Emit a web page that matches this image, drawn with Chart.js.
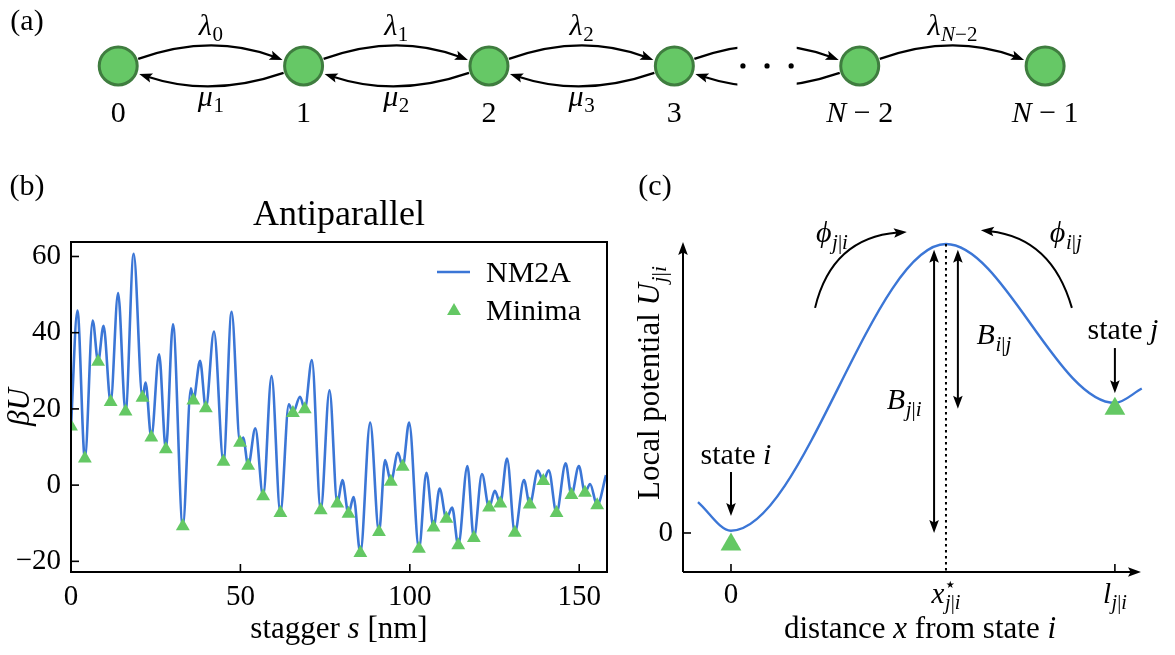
<!DOCTYPE html>
<html><head><meta charset="utf-8">
<script src="https://cdn.jsdelivr.net/npm/chart.js@4.4.1/dist/chart.umd.min.js"></script>
<style>
html,body{margin:0;padding:0;background:#ffffff;}
#fig{position:relative;width:1175px;height:655px;overflow:hidden;background:#fff;}
#fig canvas{position:absolute;}
</style></head>
<body><div id="fig">
<canvas id="chartA" width="1175" height="140" style="left:0;top:0;width:1175px;height:140px"></canvas>
<canvas id="chartB" width="630" height="515" style="left:0;top:140px;width:630px;height:515px"></canvas>
<canvas id="chartC" width="555" height="515" style="left:620px;top:140px;width:555px;height:515px"></canvas>
</div>
<script>
// ---------------- data ----------------
// (a) birth–death chain
const chainStates = [0, 1, 2, 3, 4, 5];
const chainStateLabels = ['$0', '$1', '$2', '$3', '$N − 2', '$N − 1'];
const forwardRates = [[0, 1, '$λ_{0}'], [1, 2, '$λ_{1}'], [2, 3, '$λ_{2}'], [4, 5, '$λ_{N−2}']];
const backwardRates = [[1, 0, '$μ_{1}'], [2, 1, '$μ_{2}'], [3, 2, '$μ_{3}']];
const ellipsisLink = [3, 4];

// (b) Antiparallel NM2A potential
const xTicksB = [0, 50, 100, 150];
const yTicksB = [-20, 0, 20, 40, 60];
const peakS = [1.9, 6.4, 9.6, 13.9, 18.5, 22.0, 26.0, 30.1, 35.4, 38.1, 42.2, 47.4, 50.8, 54.4, 59.2, 64.3, 67.6, 71.1, 76.3, 80.1, 83.4, 88.3, 92.7, 96.5, 99.8, 104.9, 108.8, 112.5, 117.0, 121.3, 125.1, 128.7, 133.7, 137.8, 141.0, 146.0, 149.9, 153.2, 157.9];
const peakU = [45.8, 43.2, 41.8, 50.4, 60.7, 26.9, 34.3, 42.2, 25.4, 32.6, 40.3, 45.5, 12.5, 14.9, 28.6, 21.2, 23.2, 32.8, 24.9, 1.3, -3.1, 16.4, 6.6, 8.5, 16.4, 3.2, -0.9, -5.9, 5.0, 2.9, -1.5, 7.0, 1.3, 3.8, 3.9, 5.7, 5.0, 0.3, 2.6];
const minimaS = [0.0, 4.1, 8.0, 11.7, 16.1, 21.1, 23.7, 28.0, 33.0, 36.1, 39.8, 45.0, 49.9, 52.3, 56.7, 61.8, 65.5, 69.0, 73.7, 78.6, 81.9, 85.4, 90.9, 94.4, 97.9, 102.7, 107.0, 110.8, 114.3, 118.9, 123.4, 126.7, 131.0, 135.4, 139.4, 143.3, 147.7, 151.7, 155.3];
const minimaU = [15.4, 7.0, 32.4, 21.8, 19.3, 22.9, 12.5, 9.4, -10.8, 22.2, 20.2, 6.1, 11.1, 5.1, -2.9, -7.3, 18.9, 19.9, -6.6, -4.8, -7.5, -17.8, -12.3, 0.9, 4.8, -16.7, -11.1, -8.8, -15.8, -13.9, -5.9, -4.8, -12.5, -5.1, 1.1, -7.3, -2.6, -2.0, -5.3];

// (c) schematic local potential (x in units of l, U in units of barrier top)
const potentialX = [-0.086, 0.0, 0.56, 1.0, 1.07];
const potentialU = [0.107, 0.008, 1.0, 0.45, 0.50];
const stateX = [0, 1];
const stateMarkerU = [-0.04, 0.43];
const xTicksC = [0, 0.56, 1];
const xTickLabelsC = ['$0', '$x^{⋆}_{j|i}', '$l_{j|i}'];
const yTicksC = [0];

// ---------------- style ----------------
const FONT = '"Liberation Serif", "DejaVu Serif", serif';
const BLUE = '#3b76d6';
const GREEN = '#64c864';
const NODE_FILL = '#66c866';
const NODE_EDGE = '#3f7d3f';
Chart.defaults.font.family = FONT;
Chart.defaults.color = '#000';

// ---------------- helpers ----------------
const isLetter = ch => /[A-Za-z\u03B1-\u03C9\u03D5]/.test(ch);
function parseMath(parts) {
  const groups = [];
  for (const p of parts) {
    if (p[0] !== '$') { groups.push({lvl: 0, chars: [{t: p, it: false}]}); continue; }
    const s = p.slice(1); let i = 0;
    while (i < s.length) {
      const c = s[i];
      if ((c === '_' || c === '^') && s[i + 1] === '{') {
        const j = s.indexOf('}', i);
        groups.push({lvl: c === '_' ? -1 : 1, chars: [...s.slice(i + 2, j)].map(ch => ({t: ch, it: isLetter(ch)}))});
        i = j + 1;
      } else { groups.push({lvl: 0, chars: [{t: c, it: isLetter(c)}]}); i++; }
    }
  }
  return groups;
}
function layoutMath(ctx, groups, size) {
  let x = 0; const items = []; let prevSup = null;
  for (const g of groups) {
    const sz = g.lvl ? size * 0.7 : size;
    const startX = (g.lvl === -1 && prevSup) ? prevSup.start : x;
    let cx = startX + (g.lvl === -1 ? size * 0.02 : 0);
    for (const c of g.chars) {
      const font = (c.it ? 'italic ' : '') + sz + 'px ' + FONT;
      ctx.font = font;
      const w = ctx.measureText(c.t).width;
      items.push({t: c.t, font, dx: cx, dy: g.lvl === -1 ? size * 0.22 : g.lvl === 1 ? -size * 0.4 : 0});
      cx += w;
    }
    if (g.lvl === 1) { prevSup = {start: startX, end: cx}; x = cx; }
    else if (g.lvl === -1 && prevSup) { x = Math.max(prevSup.end, cx); prevSup = null; }
    else { x = cx; prevSup = null; }
  }
  return {items, width: x};
}
function drawMath(ctx, parts, x, y, size, align) {
  if (typeof parts === 'string') parts = [parts];
  const L = layoutMath(ctx, parseMath(parts), size);
  const x0 = align === 'left' ? x : align === 'right' ? x - L.width : x - L.width / 2;
  ctx.save();
  ctx.textAlign = 'left'; ctx.textBaseline = 'alphabetic'; ctx.fillStyle = '#000';
  for (const it of L.items) { ctx.font = it.font; ctx.fillText(it.t, x0 + it.dx, y + it.dy); }
  ctx.restore();
}
function drawMathRot(ctx, parts, x, y, size) {
  ctx.save(); ctx.translate(x, y); ctx.rotate(-Math.PI / 2);
  drawMath(ctx, parts, 0, 0, size, 'center'); ctx.restore();
}
function head(ctx, tx, ty, ux, uy, len = 13, half = 4.8) {
  const n = Math.hypot(ux, uy); ux /= n; uy /= n;
  const bx = tx - ux * len, by = ty - uy * len;
  ctx.beginPath();
  ctx.moveTo(tx, ty);
  ctx.lineTo(bx - uy * half, by + ux * half);
  ctx.lineTo(tx - ux * len * 0.8, ty - uy * len * 0.8);
  ctx.lineTo(bx + uy * half, by - ux * half);
  ctx.closePath(); ctx.fill();
}
function quadArrow(ctx, x1, y1, cx, cy, x2, y2, withHead) {
  let ux = x2 - cx, uy = y2 - cy; const n = Math.hypot(ux, uy); ux /= n; uy /= n;
  const ex = withHead ? x2 - ux * 9 : x2, ey = withHead ? y2 - uy * 9 : y2;
  ctx.beginPath(); ctx.moveTo(x1, y1); ctx.quadraticCurveTo(cx, cy, ex, ey); ctx.stroke();
  if (withHead) head(ctx, x2, y2, ux, uy);
}
function lineArrow(ctx, x1, y1, x2, y2, both) {
  let ux = x2 - x1, uy = y2 - y1; const n = Math.hypot(ux, uy); ux /= n; uy /= n;
  ctx.beginPath();
  ctx.moveTo(both ? x1 + ux * 9 : x1, both ? y1 + uy * 9 : y1);
  ctx.lineTo(x2 - ux * 9, y2 - uy * 9); ctx.stroke();
  head(ctx, x2, y2, ux, uy);
  if (both) head(ctx, x1, y1, -ux, -uy);
}
function triangle(ctx, x, y, r, color) {
  ctx.save(); ctx.fillStyle = color; ctx.beginPath();
  for (let k = 0; k < 3; k++) {
    const a = k * 2 * Math.PI / 3;
    const px = x + Math.sin(a) * r, py = y - Math.cos(a) * r;
    k ? ctx.lineTo(px, py) : ctx.moveTo(px, py);
  }
  ctx.closePath(); ctx.fill(); ctx.restore();
}
const fmtNum = v => String(v).replace('-', '−');
const common = {responsive: false, animation: false, events: [],
  plugins: {legend: {display: false}, tooltip: {enabled: false}, title: {display: false}}};

// ---------------- (a) chain ----------------
const chainPlugin = {
  id: 'chain',
  beforeDatasetsDraw(chart) {
    const {ctx, scales: {x: xs, y: ys}} = chart;
    const Y = ys.getPixelForValue(0);
    const X = v => xs.getPixelForValue(v);
    ctx.save(); ctx.strokeStyle = '#000'; ctx.fillStyle = '#000'; ctx.lineWidth = 2.2;
    const upper = (a, b) => { const x1 = X(a) + 20, x2 = X(b) - 21; quadArrow(ctx, x1, Y - 7, (x1 + x2) / 2, Y - 33, x2, Y - 6, true); };
    const lower = (a, b) => { const x1 = X(a) - 20, x2 = X(b) + 21; quadArrow(ctx, x1, Y + 7, (x1 + x2) / 2, Y + 32, x2, Y + 8, true); };
    forwardRates.forEach(([a, b]) => upper(a, b));
    backwardRates.forEach(([a, b]) => lower(a, b));
    // arcs interrupted by the ellipsis
    const [ea, eb] = ellipsisLink;
    const gL = X(ea + 0.34), gR = X(ea + 0.66);
    ctx.save(); ctx.beginPath();
    ctx.rect(0, 0, gL, chart.height); ctx.rect(gR, 0, chart.width - gR, chart.height); ctx.clip();
    upper(ea, eb); lower(eb, ea);
    ctx.restore();
    [0.37, 0.5, 0.63].forEach(f => { ctx.beginPath(); ctx.arc(X(ea + f), Y, 2.6, 0, 2 * Math.PI); ctx.fill(); });
    ctx.restore();
  },
  afterDatasetsDraw(chart) {
    const {ctx, scales: {x: xs, y: ys}} = chart;
    const Y = ys.getPixelForValue(0);
    const X = v => xs.getPixelForValue(v);
    forwardRates.forEach(([a, b, t]) => drawMath(ctx, t, (X(a) + X(b)) / 2, Y - 31, 30, 'center'));
    backwardRates.forEach(([a, b, t]) => drawMath(ctx, t, (X(a) + X(b)) / 2, Y + 40, 30, 'center'));
    chainStates.forEach((s, i) => drawMath(ctx, chainStateLabels[i], X(s), Y + 56, 30, 'center'));
    drawMath(ctx, '(a)', 27, 30, 30, 'center');
  }
};
new Chart(document.getElementById('chartA'), {
  type: 'scatter',
  data: {datasets: [{data: chainStates.map(s => ({x: s, y: 0})), pointRadius: 19, pointHoverRadius: 19,
    backgroundColor: NODE_FILL, borderColor: NODE_EDGE, borderWidth: 3, clip: false}]},
  options: {...common, layout: {padding: 0},
    scales: {x: {type: 'linear', display: false, min: -0.519, max: 5.582},
             y: {type: 'linear', display: false, min: -1.1875, max: 1}}},
  plugins: [chainPlugin]
});

// ---------------- (b) antiparallel ----------------
const panelBPlugin = {
  id: 'panelB',
  afterDatasetsDraw(chart) {
    const {ctx, chartArea: a, scales: {x: xs, y: ys}} = chart;
    ctx.save();
    ctx.strokeStyle = '#000'; ctx.lineWidth = 2;
    ctx.strokeRect(a.left, a.top, a.right - a.left, a.bottom - a.top);
    ctx.lineWidth = 1.6;
    xTicksB.forEach(v => { const p = xs.getPixelForValue(v); ctx.beginPath(); ctx.moveTo(p, a.bottom); ctx.lineTo(p, a.bottom - 8); ctx.stroke(); });
    yTicksB.forEach(v => { const p = ys.getPixelForValue(v); ctx.beginPath(); ctx.moveTo(a.left, p); ctx.lineTo(a.left + 8, p); ctx.stroke(); });
    // legend
    ctx.strokeStyle = BLUE; ctx.lineWidth = 2.6;
    ctx.beginPath(); ctx.moveTo(a.right - 170, a.top + 30); ctx.lineTo(a.right - 137, a.top + 30); ctx.stroke();
    triangle(ctx, a.right - 153, a.top + 69, 8, GREEN);
    drawMath(ctx, 'NM2A', a.right - 121, a.top + 40, 30, 'left');
    drawMath(ctx, 'Minima', a.right - 121, a.top + 78, 30, 'left');
    // titles
    const cx = (a.left + a.right) / 2, cy = (a.top + a.bottom) / 2;
    drawMath(ctx, 'Antiparallel', cx, a.top - 17, 36, 'center');
    drawMath(ctx, ['stagger ', '$s', ' [nm]'], cx, a.bottom + 66, 31, 'center');
    drawMathRot(ctx, ['$βU'], 29, cy, 31);
    drawMath(ctx, '(b)', 27, 55, 30, 'center');
    ctx.restore();
  }
};
const curveB = peakS.map((s, i) => ({x: s, y: peakU[i]}))
  .concat(minimaS.map((s, i) => ({x: s, y: minimaU[i]})))
  .sort((p, q) => p.x - q.x);
new Chart(document.getElementById('chartB'), {
  type: 'line',
  data: {datasets: [
    {label: 'NM2A', data: curveB, borderColor: BLUE, borderWidth: 2.6, pointRadius: 0,
     cubicInterpolationMode: 'monotone', fill: false, order: 2},
    {label: 'Minima', data: minimaS.map((s, i) => ({x: s, y: minimaU[i]})), showLine: false,
     pointStyle: 'triangle', pointRadius: 8, pointHoverRadius: 8, backgroundColor: GREEN, borderColor: GREEN, borderWidth: 0, order: 1}
  ]},
  options: {...common, layout: {padding: {left: 0, right: 23, top: 102, bottom: 0}},
    scales: {
      x: {type: 'linear', min: 0, max: 158.2, afterFit: s => { s.height = 83; },
          afterBuildTicks: s => { s.ticks = xTicksB.map(v => ({value: v})); },
          grid: {display: false, drawTicks: false}, border: {display: false},
          ticks: {font: {size: 29, family: FONT}, color: '#000', padding: 8, maxRotation: 0, autoSkip: false, callback: v => fmtNum(v)}},
      y: {type: 'linear', min: -22.8, max: 63.8, afterFit: s => { s.width = 71; },
          afterBuildTicks: s => { s.ticks = yTicksB.map(v => ({value: v})); },
          grid: {display: false, drawTicks: false}, border: {display: false},
          ticks: {font: {size: 29, family: FONT}, color: '#000', padding: 10, autoSkip: false, callback: v => fmtNum(v)}}
    }},
  plugins: [panelBPlugin]
});

// ---------------- (c) schematic ----------------
const panelCPlugin = {
  id: 'panelC',
  afterDatasetsDraw(chart) {
    const {ctx, chartArea: a, scales: {x: xs, y: ys}} = chart;
    const px = v => xs.getPixelForValue(v), py = v => ys.getPixelForValue(v);
    ctx.save(); ctx.strokeStyle = '#000'; ctx.fillStyle = '#000'; ctx.lineWidth = 2;
    // axes with arrow heads
    ctx.beginPath(); ctx.moveTo(a.left, a.bottom); ctx.lineTo(a.right - 9, a.bottom); ctx.stroke();
    head(ctx, a.right, a.bottom, 1, 0);
    ctx.beginPath(); ctx.moveTo(a.left, a.bottom); ctx.lineTo(a.left, a.top + 9); ctx.stroke();
    head(ctx, a.left, a.top, 0, -1);
    ctx.lineWidth = 1.6;
    [xTicksC[0], xTicksC[2]].forEach(v => { ctx.beginPath(); ctx.moveTo(px(v), a.bottom); ctx.lineTo(px(v), a.bottom - 8); ctx.stroke(); });
    yTicksC.forEach(v => { ctx.beginPath(); ctx.moveTo(a.left, py(v)); ctx.lineTo(a.left + 8, py(v)); ctx.stroke(); });
    // dotted line at barrier position
    const xStar = xTicksC[1], top = potentialU[potentialX.indexOf(xStar)], jLevel = stateMarkerU[1];
    ctx.save(); ctx.lineWidth = 2; ctx.setLineDash([2.5, 3.5]);
    ctx.beginPath(); ctx.moveTo(px(xStar), py(top)); ctx.lineTo(px(xStar), a.bottom); ctx.stroke(); ctx.restore();
    // barrier arrows
    ctx.lineWidth = 2;
    lineArrow(ctx, px(xStar - 0.031), py(0), px(xStar - 0.031), py(top - 0.02), true);
    lineArrow(ctx, px(xStar + 0.031), py(top - 0.02), px(xStar + 0.031), py(jLevel), true);
    // flux arrows
    quadArrow(ctx, px(0.219), py(0.779), px(0.263), py(1.021), px(0.458), py(1.042), true);
    quadArrow(ctx, px(0.888), py(0.779), px(0.836), py(1.021), px(0.651), py(1.048), true);
    // state arrows
    lineArrow(ctx, px(0), py(0.211), px(0), py(0.059), false);
    lineArrow(ctx, px(1), py(0.640), px(1), py(0.484), false);
    // labels
    drawMath(ctx, ['$ϕ_{j|i}'], px(0.263), py(1.007), 30, 'center');
    drawMath(ctx, ['$ϕ_{i|j}'], px(0.872), py(1.007), 30, 'center');
    drawMath(ctx, ['$B_{j|i}'], px(0.451), py(0.428), 30, 'center');
    drawMath(ctx, ['$B_{i|j}'], px(0.685), py(0.653), 30, 'center');
    drawMath(ctx, ['state ', '$j'], px(1.021), py(0.671), 30, 'center');
    drawMath(ctx, ['state ', '$i'], px(0.013), py(0.239), 30, 'center');
    xTicksC.forEach((v, i) => drawMath(ctx, [xTickLabelsC[i]], px(v), a.bottom + 31, 29, 'center'));
    drawMath(ctx, ['distance ', '$x', ' from state ', '$i'], (a.left + a.right) / 2 + 8, a.bottom + 66, 31, 'center');
    drawMathRot(ctx, ['Local potential ', '$U_{j|i}'], 39, (a.top + a.bottom) / 2 - 24, 31);
    drawMath(ctx, '(c)', 35, 55, 30, 'center');
    ctx.restore();
  }
};
new Chart(document.getElementById('chartC'), {
  type: 'line',
  data: {datasets: [
    {data: potentialX.map((x, i) => ({x, y: potentialU[i]})), borderColor: BLUE, borderWidth: 2.4, pointRadius: 0,
     cubicInterpolationMode: 'monotone', fill: false, clip: false, order: 2},
    {data: stateX.map((x, i) => ({x, y: stateMarkerU[i]})), showLine: false, pointStyle: 'triangle',
     pointRadius: 12, pointHoverRadius: 12, backgroundColor: GREEN, borderColor: GREEN, borderWidth: 0, clip: false, order: 1}
  ]},
  options: {...common, layout: {padding: {left: 0, right: 34, top: 102, bottom: 0}},
    scales: {
      x: {type: 'linear', min: -0.125, max: 1.068, afterFit: s => { s.height = 83; },
          grid: {display: false, drawTicks: false}, border: {display: false}, ticks: {display: false}},
      y: {type: 'linear', min: -0.135, max: 1.007, afterFit: s => { s.width = 63; },
          afterBuildTicks: s => { s.ticks = yTicksC.map(v => ({value: v})); },
          grid: {display: false, drawTicks: false}, border: {display: false},
          ticks: {font: {size: 29, family: FONT}, color: '#000', padding: 10, callback: v => fmtNum(v)}}
    }},
  plugins: [panelCPlugin]
});
</script></body></html>
